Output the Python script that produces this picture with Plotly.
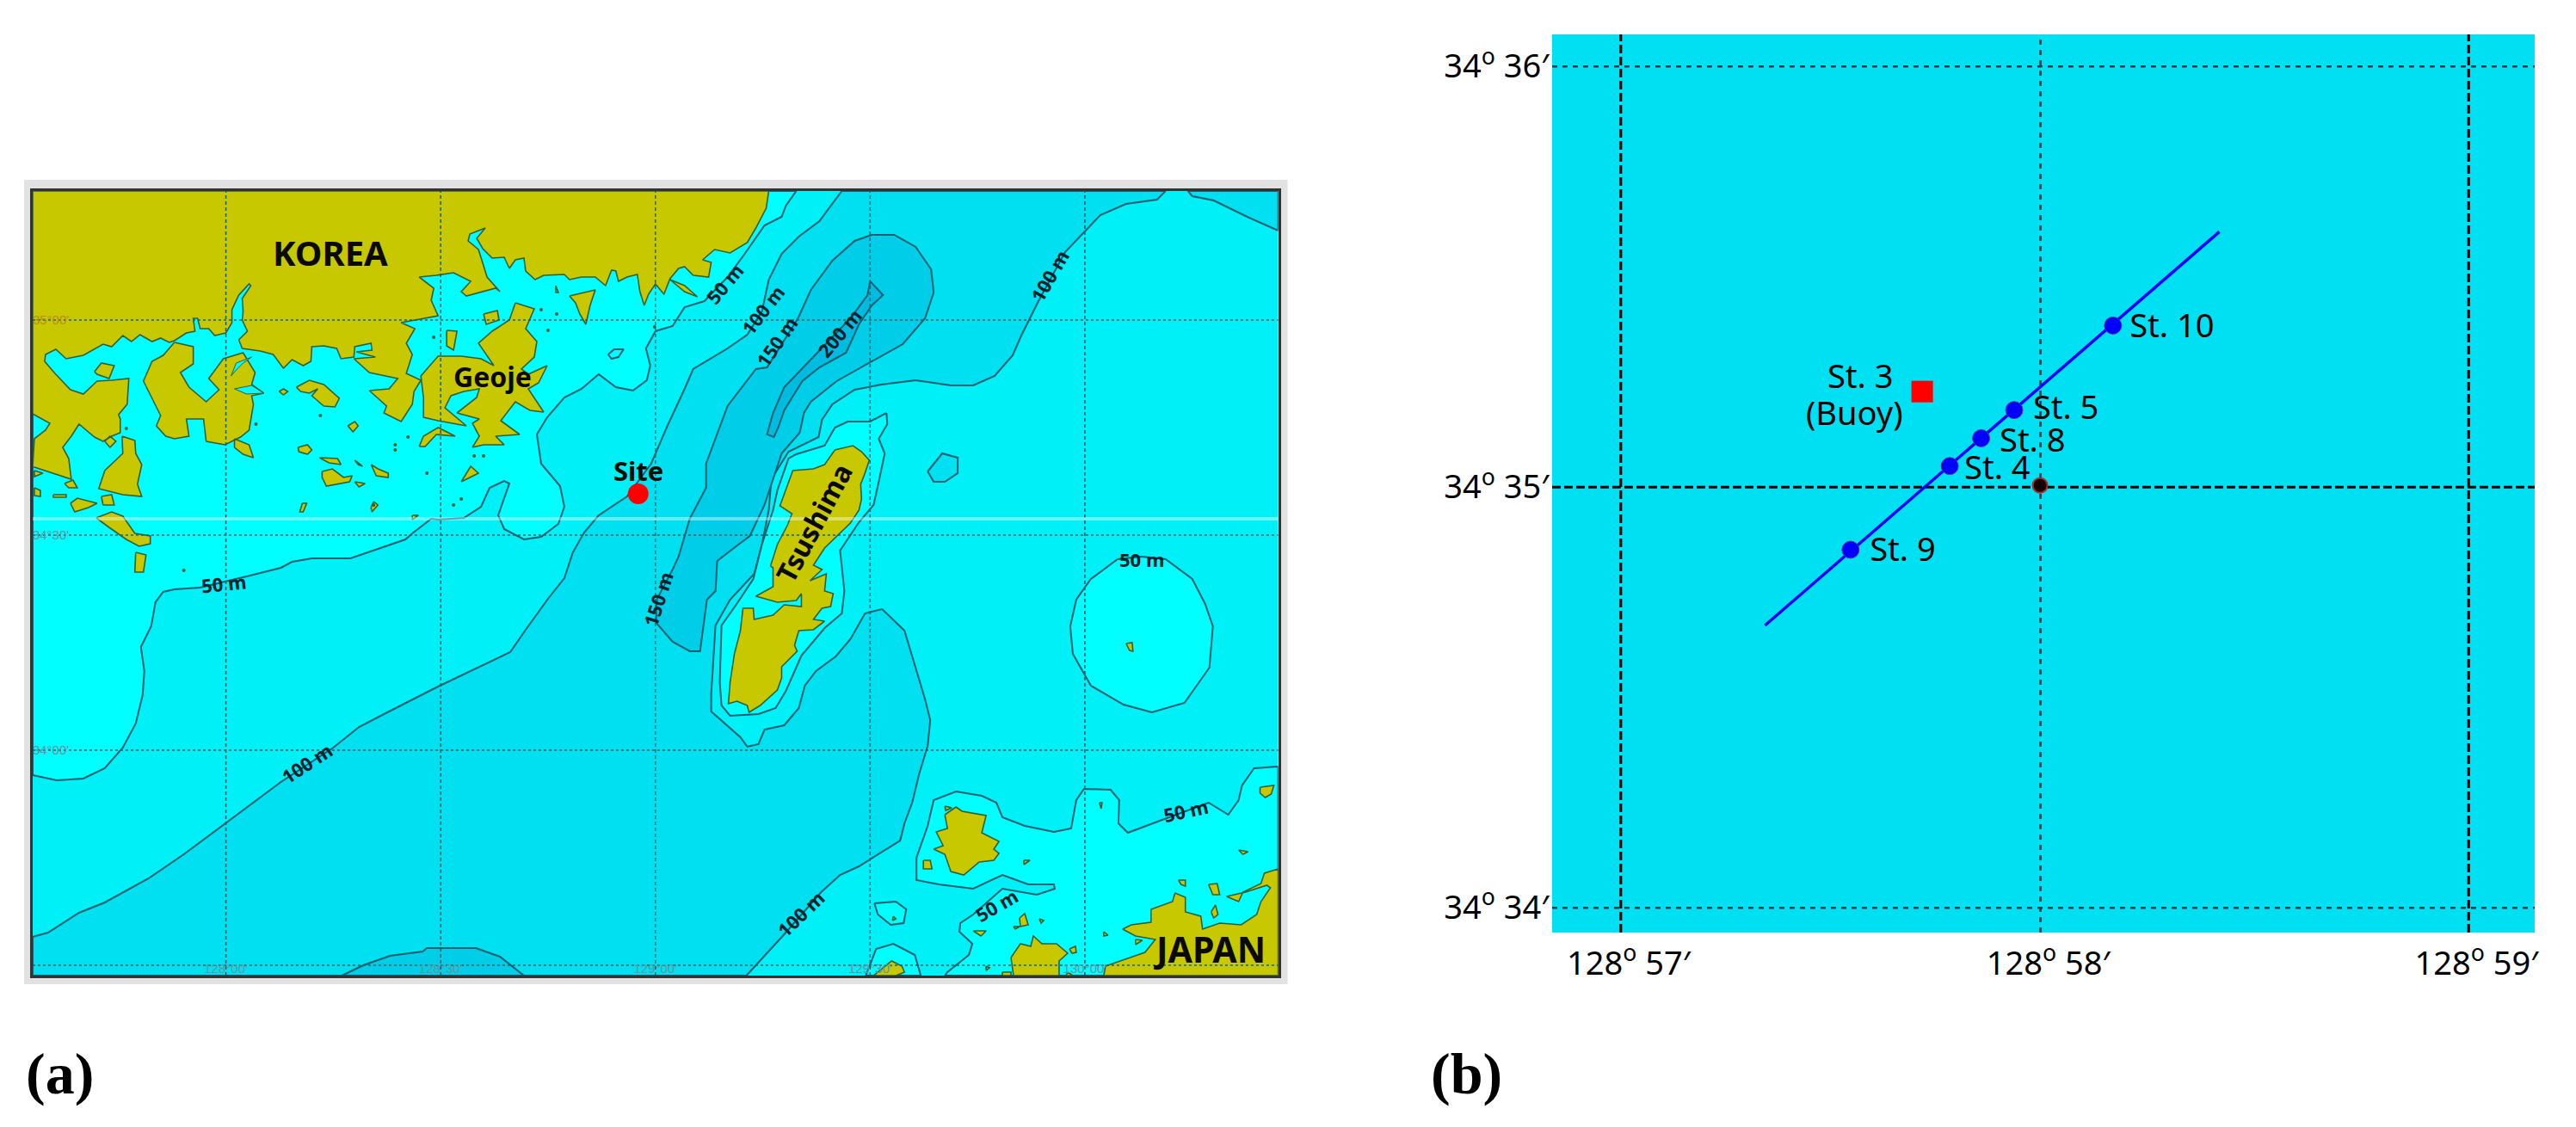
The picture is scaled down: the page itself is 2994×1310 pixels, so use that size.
import plotly.graph_objects as go

# Panel (a) digitised in map units of 0.002 degrees: east of 128E, north of 34N
KOREA = [(-223,329),(-180,315),(-183,339),(-190,352),(-180,365),(-171,379),(-153,364),(-143,359),(-133,365),(-123,369),(-123,385),(-125,390),(-115,402),(-113,432),(-133,430),(-150,429),(-166,414),(-181,419),(-200,439),(-211,452),(-210,460),(-198,466),(-186,455),(-166,459),(-143,472),(-133,469),(-120,482),(-110,475),(-100,483),(-86,475),(-76,479),(-66,474),(-60,476),(-46,485),(-36,487),(-38,502),(-33,502),(-30,490),(-20,490),(-13,482),(0,485),(7,497),(7,512),(15,529),(27,542),(29,540),(19,525),(20,510),(19,500),(25,487),(15,477),(19,467),(40,464),(55,460),(67,444),(77,454),(90,447),(99,452),(100,469),(114,470),(129,467),(134,455),(149,457),(150,469),(169,473),(170,465),(152,463),(174,457),(149,455),(167,439),(200,432),(190,420),(167,418),(187,400),(184,392),(204,382),(217,402),(219,417),(227,430),(210,438),(217,460),(210,473),(220,490),(204,497),(247,505),(239,523),(242,537),(225,550),(245,552),(265,555),(285,545),(274,533),(280,528),(314,537),(319,533),(310,543),(304,550),(300,563),(294,582),(282,592),(284,600),(302,607),(292,595),(299,583),(310,572),(324,573),(330,560),(337,570),(347,572),(349,557),(360,547),(370,552),(394,553),(400,547),(414,550),(430,550),(442,540),(449,558),(454,557),(457,545),(467,550),(479,553),(482,533),(487,517),(492,530),(500,542),(510,530),(517,548),(527,560),(534,562),(544,552),(562,550),(565,567),(555,570),(569,582),(587,578),(607,590),(617,607),(629,630),(632,650),(-225,650),(-225,391),(-205,380),(-210,372),(-223,362),(-225,329)]
GEOJE = [(337,520),(359,513),(349,490),(362,475),(359,457),(344,443),(352,437),(374,447),(364,427),(352,420),(370,393),(354,395),(337,405),(320,383),(342,367),(314,365),(324,355),(300,355),(287,352),(295,365),(287,380),(295,385),(269,392),(292,410),(295,420),(277,417),(262,412),(255,398),(280,377),(247,383),(230,387),(230,410),(227,435),(247,458),(274,458),(297,455),(312,447),(294,473),(310,487),(330,500)]
WEST_ISLAND = [(-60,474),(-38,469),(-38,449),(-53,439),(-43,422),(-23,405),(-8,419),(-20,432),(-3,455),(20,462),(34,439),(30,425),(44,415),(30,412),(32,402),(27,372),(17,364),(7,359),(-1,355),(-23,359),(-26,385),(-46,385),(-43,365),(-60,362),(-70,365),(-81,377),(-76,389),(-86,409),(-96,429),(-86,452),(-73,459)]
SMALL_ISLANDS = [
 [(10,362),(27,355),(32,340),(20,344),(10,352)],
 [(-121,365),(-106,360),(-105,345),(-98,332),(-103,309),(-98,295),(-120,297),(-148,304),(-141,325),(-126,339),(-120,345)],
 [(-141,359),(-135,365),(-128,359),(-135,352)],
 [(-153,440),(-145,450),(-130,447),(-136,432),(-150,437)],
 [(-181,287),(-173,293),(-150,287),(-160,282),(-176,277)],
 [(-188,310),(-178,314),(-173,305),(-183,305)],
 [(-145,295),(-133,297),(-130,285),(-143,285)],
 [(-223,305),(-216,302),(-216,295),(-223,296)],
 [(-223,325),(-213,322),(-223,318)],
 [(-201,297),(-186,297),(-186,294),(-201,294)],
 [(-151,270),(-133,277),(-120,272),(-106,252),(-88,249),(-88,240),(-101,237),(-116,245),(-136,259)],
 [(-105,230),(-93,227),(-96,207),(-106,207)],
 [(62,417),(67,420),(72,417),(67,413)],
 [(82,422),(97,430),(114,425),(132,409),(127,399),(114,400),(100,412),(107,420),(97,415),(87,417)],
 [(142,377),(150,382),(154,377),(148,370)],
 [(84,352),(95,355),(100,349),(95,344),(85,347)],
 [(109,340),(130,339),(134,332),(120,334)],
 [(112,324),(124,327),(137,317),(147,319),(144,312),(134,310),(117,307),(112,317)],
 [(169,332),(177,327),(189,322),(189,317),(175,319)],
 [(150,337),(159,330),(154,332)],
 [(150,312),(162,310),(155,306)],
 [(89,287),(94,287),(90,277),(86,277)],
 [(172,289),(177,285),(170,277),(169,282)],
 [(217,273),(224,273),(217,268)],
 [(400,528),(430,535),(424,517),(419,495),(412,507),(407,520)],
 [(257,488),(269,487),(265,465),(257,470)],
 [(300,507),(316,511),(318,500),(303,495)],
 [(517,547),(534,540),(549,527),(534,533)],
 [(225,353),(230,365),(247,375),(267,365),(245,367),(232,353)],
 [(274,312),(285,330),(294,322)],
 [(384,540),(387,532),(384,532)],
]
CHANNELS = [
 [(6,435),(12,450),(30,457),(20,450),(12,442)],
 [(10,420),(30,424),(44,415),(24,414)],
]
LAND_DOTS_E = [-49,375,367,385,499,242,197,197,234,265,274,172,212,35,110,-116,289,300]
LAND_DOTS_N = [209,488,512,507,492,480,355,349,322,285,292,285,364,379,389,374,342,342]

TSUSHIMA = [(709,349),(730,354),(740,347),(749,337),(744,322),(739,309),(740,292),(737,279),(727,264),(710,247),(697,235),(684,215),(694,210),(680,197),(699,205),(697,185),(707,182),(704,167),(694,165),(684,152),(697,150),(684,140),(667,139),(662,122),(665,115),(647,97),(647,84),(642,70),(630,59),(622,52),(609,44),(607,52),(595,57),(585,54),(587,79),(592,112),(599,139),(602,165),(614,165),(615,152),(637,157),(650,169),(670,167),(670,182),(664,174),(642,172),(617,179),(637,190),(637,212),(634,214),(642,239),(654,262),(659,275),(645,284),(660,325),(684,327),(697,332)]
IKI = [(837,-75),(850,-66),(857,-71),(885,-76),(880,-96),(900,-106),(894,-115),(900,-120),(894,-128),(877,-130),(859,-145),(844,-141),(837,-121),(824,-115),(835,-111),(827,-95),(840,-91)]
JAPAN = [(1225,-138),(1209,-143),(1205,-155),(1184,-165),(1179,-176),(1165,-170),(1187,-165),(1212,-157),(1216,-160),(1205,-176),(1200,-191),(1182,-203),(1157,-201),(1137,-208),(1135,-193),(1117,-188),(1117,-171),(1105,-166),(1102,-176),(1077,-185),(1077,-200),(1054,-203),(1044,-208),(1059,-216),(1082,-220),(1070,-235),(1047,-243),(1024,-251),(1022,-262),(1225,-262)]
JAPAN_ISLANDS = [
 [(812,-128),(820,-128),(822,-138),(812,-138)],
 [(837,-65),(845,-67),(838,-70)],
 [(929,-128),(936,-128),(929,-133)],
 [(1017,-61),(1020,-61),(1019,-68)],
 [(1204,-43),(1220,-41),(1217,-51),(1210,-55),(1204,-50)],
 [(1179,-116),(1190,-118),(1184,-121)],
 [(1144,-156),(1154,-155),(1157,-168),(1149,-168)],
 [(1147,-188),(1152,-180),(1155,-191),(1150,-195)],
 [(1109,-151),(1117,-151),(1117,-158),(1112,-156)],
 [(1059,-220),(1067,-221),(1059,-226)],
 [(1022,-211),(1027,-215),(1022,-216)],
 [(914,-241),(925,-225),(937,-228),(940,-216),(950,-225),(967,-225),(980,-236),(970,-245),(970,-262),(917,-262)],
 [(982,-231),(989,-228),(990,-235),(985,-236)],
 [(754,-262),(775,-245),(787,-251),(790,-258),(780,-262)],
 [(870,-210),(885,-210),(879,-216)],
 [(924,-195),(930,-190),(934,-203),(925,-205)],
 [(917,-205),(924,-205),(919,-208)],
 [(947,-196),(952,-198),(949,-201)],
 [(904,-258),(914,-258),(914,-262),(904,-262)],
 [(885,-251),(889,-253),(885,-256)],
 [(980,-258),(986,-262),(978,-262)],
 [(777,-193),(780,-196),(776,-198)],
 [(1048,124),(1055,125),(1056,115),(1052,116)],
]

# Depth contours
SHALLOW_WEST = [(-225,-29),(-197,-35),(-166,-33),(-141,-21),(-120,3),(-105,31),(-97,64),(-95,92),(-99,120),(-87,144),(-82,172),(-73,184),(-60,187),(-30,189),(24,202),(64,212),(77,219),(100,223),(145,223),(177,234),(209,245),(217,252),(239,269),(247,268),(277,270),(297,283),(307,305),(324,313),(330,310),(317,273),(324,257),(347,245),(367,248),(387,263),(394,283),(389,307),(367,333),(362,367),(374,387),(394,410),(414,420),(434,437),(454,422),(474,418),(490,430),(494,447),(489,467),(500,487),(520,493),(534,515),(557,522),(584,550),(604,577),(627,610),(647,620),(652,633),(664,650),(-225,650)]
SHALLOW_OVAL = [(1038,222),(1066,225),(1094,222),(1125,199),(1140,170),(1149,144),(1145,96),(1116,55),(1078,44),(1045,53),(1007,75),(986,112),(983,144),(990,175),(1007,199)]
SHALLOW_TSUSHIMA = [(769,392),(770,379),(760,362),(767,345),(760,312),(754,285),(737,265),(715,232),(720,185),(717,159),(697,142),(670,110),(652,69),(640,49),(620,42),(587,40),(577,52),(575,79),(577,145),(594,169),(614,199),(624,239),(637,279),(642,302),(655,339),(664,344),(697,354),(709,375),(724,382),(750,382)]
SHALLOW_JAPAN = [(1225,-19),(1197,-21),(1183,-41),(1179,-58),(1167,-75),(1144,-61),(1090,-81),(1050,-96),(1039,-85),(1040,-58),(1030,-46),(999,-45),(990,-58),(984,-91),(964,-95),(930,-88),(904,-78),(897,-61),(880,-53),(850,-48),(824,-58),(817,-88),(804,-125),(804,-151),(830,-156),(870,-161),(904,-145),(934,-156),(964,-156),(965,-161),(944,-168),(904,-161),(870,-191),(855,-201),(854,-211),(869,-225),(865,-238),(840,-258),(837,-262),(1225,-262)]
SHALLOW_SOUTH = [(809,-262),(802,-238),(777,-225),(757,-231),(745,-262)]
SHALLOW_BAY = [(755,-178),(780,-176),(792,-185),(789,-201),(774,-203),(759,-191)]
SITE_LOOP = [(445,460),(452,466),(463,466),(457,457),(449,455),(445,460)]

DEEP_100 = [(-225,-262),(-225,-217),(-207,-212),(-171,-189),(-141,-177),(-90,-149),(-49,-121),(-3,-87),(43,-53),(64,-37),(125,3),(155,27),(186,43),(247,74),(331,114),(349,140),(375,176),(394,200),(404,230),(417,253),(434,273),(467,295),(495,333),(514,377),(534,420),(544,443),(584,467),(607,483),(624,510),(632,547),(647,577),(667,597),(691,615),(717,650),(1094,650),
 (1084,640),(1048,635),(1018,622),(977,579),(946,522),(926,482),(916,459),(895,435),(870,424),(844,424),(803,430),(763,425),(732,419),(706,402),(694,384),(690,364),(655,347),(635,315),(632,279),(624,239),(615,205),(587,175),(570,145),(565,65),(565,45),(599,15),(607,4),(620,7),(627,24),(650,29),(667,49),(674,75),(687,92),(710,109),(727,129),(744,159),(764,164),(790,139),(814,59),(820,35),(817,5),(810,-18),(807,-28),(799,-61),(790,-85),(785,-105),(764,-118),(737,-135),(715,-145),(693,-165),(650,-214),(606,-262)]
DEEP_100_CORNER = [(1225,604),(1191,619),(1150,639),(1125,644),(1120,650),(1225,650)]
DEEP_100_LOOP = [(817,324),(834,345),(852,340),(852,322),(837,312),(824,312)]
DEEP_150 = [(752,599),(778,599),(803,585),(821,559),(824,532),(814,502),(788,472),(747,449),(711,429),(681,405),(673,392),(668,369),(647,345),(627,285),(610,249),(594,237),(572,220),(570,185),(560,175),(552,115),(540,115),(520,126),(501,148),(501,164),(502,176),(520,210),(527,225),(540,269),(559,305),(559,333),(584,400),(617,443),(630,445),(666,502),(681,535),(706,569),(732,592)]
DEEP_150_SOUTH = [(135,-262),(160,-250),(191,-239),(229,-234),(234,-230),(291,-230),(319,-240),(347,-262)]
DEEP_200 = [(750,545),(765,529),(752,517),(737,495),(722,462),(691,445),(671,429),(650,395),(643,375),(638,364),(630,367),(637,392),(650,422),(686,459),(727,502),(747,529)]

MAP_LON_TICKS = [128.0, 128.5, 129.0, 129.5, 130.0]
MAP_LON_LABELS = ["128°00'", "128°30'", "129°00'", "129°30'", "130°00'"]
MAP_LAT_TICKS = [33.5, 34.0, 34.5, 35.0]
MAP_LAT_LABELS = ["33°30'", "34°00'", "34°30'", "<span style='color:#b98f00'>35°00'</span>"]
MAP_E_RANGE = [-225, 1225]
MAP_N_RANGE = [-262, 650]
HAZE_N = [269, 269]

SITE_E = [480]
SITE_N = [298]

MAP_LABELS = ["KOREA", "Geoje", "Site", "Tsushima", "JAPAN"]
MAP_LABEL_E = [122, 310, 480, 684, 1145]
MAP_LABEL_N = [579, 435, 325, 265, -231]
MAP_LABEL_ANGLE = [0, 0, 0, -62, 0]
MAP_LABEL_SIZE = [40, 32, 31, 32, 41]

DEPTHS = ["50 m", "50 m", "50 m", "50 m", "50 m", "100 m", "100 m", "100 m", "100 m", "150 m", "150 m", "200 m"]
DEPTH_E = [-3, 580, 1066, 897, 1117, 625, 959, 94, 669, 641, 503, 714]
DEPTH_N = [194, 542, 222, -180, -70, 512, 552, -15, -190, 475, 176, 485]
DEPTH_ANGLE = [-6, -50, 0, -30, -12, -52, -60, -33, -44, -55, -72, -50]

# Panel (b): arc-minutes past 128 deg E and past 34 deg N
TRANSECT_X = [57.340, 58.412]
TRANSECT_Y = [34.671, 35.607]
STATION_NAMES = ["St. 9", "St. 4", "St. 8", "St. 5", "St. 10"]
STATION_X = [57.542, 57.776, 57.850, 57.928, 58.161]
STATION_Y = [34.851, 35.050, 35.116, 35.183, 35.384]
NAME_X = [57.665, 57.888, 57.971, 58.050, 58.300]
NAME_Y = [34.843, 35.039, 35.104, 35.182, 35.376]
BUOY_X = [57.711]
BUOY_Y = [35.227]
BUOY_NAMES = ["St. 3", "(Buoy)"]
BUOY_NAME_X = [57.565, 57.551]
BUOY_NAME_Y = [35.254, 35.166]
CENTER_X = [57.989]
CENTER_Y = [35.004]
ZOOM_X_TICKS = [57, 57.99, 59]
ZOOM_X_LABELS = ["128<sup>o</sup> 57′", "128<sup>o</sup> 58′", "128<sup>o</sup> 59′"]
ZOOM_Y_TICKS = [34, 35, 36]
ZOOM_Y_LABELS = ["34<sup>o</sup> 34′", "34<sup>o</sup> 35′", "34<sup>o</sup> 36′"]
ZOOM_X_RANGE = [56.838, 59.156]
ZOOM_Y_RANGE = [33.941, 36.076]

W, H = 2994, 1310
SEA_50 = "#00f0f8"
SEA_0 = "#00ffff"
SEA_100 = "#00e0f0"
SEA_150 = "#00cde8"
SEA_200 = "#00bbe0"
LAND = "#c8c800"
COAST = "#2f5f3a"
CONTOUR = "#0c5f6e"
GRID = "#1c5f66"
TEXT_FONT = "Noto Sans"


def lon(e):
    return 128 + e / 500


def lat(n):
    return 34 + n / 500


def unpack(polys):
    xs, ys = [], []
    for poly in polys:
        closed = list(poly) + [poly[0]]
        xs += [lon(p[0]) for p in closed] + [None]
        ys += [lat(p[1]) for p in closed] + [None]
    return xs, ys


fig = go.Figure()


def add_area(polys, fill, line=CONTOUR, width=2):
    xs, ys = unpack(polys)
    fig.add_trace(go.Scatter(x=xs, y=ys, mode="lines", fill="toself", fillcolor=fill,
                             line=dict(color=line, width=width), xaxis="x", yaxis="y",
                             hoverinfo="skip", showlegend=False))


e0, e1 = MAP_E_RANGE
n0, n1 = MAP_N_RANGE
add_area([[(e0, n0), (e1, n0), (e1, n1), (e0, n1)]], SEA_50, line=SEA_50, width=0)
add_area([SHALLOW_WEST, SHALLOW_OVAL, SHALLOW_JAPAN, SHALLOW_SOUTH], SEA_0)
add_area([DEEP_100, DEEP_100_CORNER], SEA_100)
add_area([SHALLOW_TSUSHIMA], SEA_0)
add_area([DEEP_100_LOOP], SEA_100)
add_area([SHALLOW_BAY, SITE_LOOP], SEA_0)
add_area([DEEP_150, DEEP_150_SOUTH], SEA_150)
add_area([DEEP_200], SEA_200)
add_area([KOREA, GEOJE, WEST_ISLAND, TSUSHIMA, IKI, JAPAN] + SMALL_ISLANDS + JAPAN_ISLANDS, LAND, line=COAST, width=1.6)
add_area(CHANNELS, SEA_0, line=COAST, width=1)
fig.add_trace(go.Scatter(x=[lon(e) for e in LAND_DOTS_E], y=[lat(n) for n in LAND_DOTS_N], mode="markers",
                         marker=dict(size=4, color=COAST), xaxis="x", yaxis="y", hoverinfo="skip", showlegend=False))

# map graticule, drawn over the land
for t in MAP_LON_TICKS:
    fig.add_trace(go.Scatter(x=[t, t], y=[lat(n0), lat(n1)], mode="lines", xaxis="x", yaxis="y",
                             line=dict(color=GRID, width=1.5, dash="4px,3px"), hoverinfo="skip", showlegend=False))
for t in MAP_LAT_TICKS:
    fig.add_trace(go.Scatter(x=[lon(e0), lon(e1)], y=[t, t], mode="lines", xaxis="x", yaxis="y",
                             line=dict(color=GRID, width=1.5, dash="3px,3px"), hoverinfo="skip", showlegend=False))
fig.add_trace(go.Scatter(x=[lon(e0), lon(e1)], y=[lat(n) for n in HAZE_N], mode="lines", xaxis="x", yaxis="y",
                         line=dict(color="rgba(255,255,255,0.4)", width=4), hoverinfo="skip", showlegend=False))
fig.add_trace(go.Scatter(x=[lon(e) for e in SITE_E], y=[lat(n) for n in SITE_N], mode="markers", xaxis="x", yaxis="y",
                         marker=dict(size=24, color="#ff0000"), hoverinfo="skip", showlegend=False))

annotations = []
for txt, e, n, a, s in zip(MAP_LABELS, MAP_LABEL_E, MAP_LABEL_N, MAP_LABEL_ANGLE, MAP_LABEL_SIZE):
    annotations.append(dict(x=lon(e), y=lat(n), xref="x", yref="y", text=txt, textangle=a, showarrow=False,
                            xanchor="center", yanchor="middle",
                            font=dict(family=TEXT_FONT, size=s, weight=700, color="#0a0a00")))
for txt, e, n, a in zip(DEPTHS, DEPTH_E, DEPTH_N, DEPTH_ANGLE):
    annotations.append(dict(x=lon(e), y=lat(n), xref="x", yref="y", text=txt, textangle=a, showarrow=False,
                            xanchor="center", yanchor="middle",
                            font=dict(family=TEXT_FONT, size=22, weight=700, color="#04202a")))

# Panel (b)
fig.add_trace(go.Scatter(x=[ZOOM_X_RANGE[0], ZOOM_X_RANGE[1], ZOOM_X_RANGE[1], ZOOM_X_RANGE[0], ZOOM_X_RANGE[0]],
                         y=[ZOOM_Y_RANGE[0], ZOOM_Y_RANGE[0], ZOOM_Y_RANGE[1], ZOOM_Y_RANGE[1], ZOOM_Y_RANGE[0]],
                         mode="lines", fill="toself", fillcolor="#00e0f3", line=dict(width=0), xaxis="x2", yaxis="y2",
                         hoverinfo="skip", showlegend=False))
LINE_HEAVY = dict(color="#000000", width=3, dash="10px,4px")
LINE_THIN = dict(color="#06404a", width=2.5, dash="6px,6px")
for t in ZOOM_X_TICKS:
    fig.add_trace(go.Scatter(x=[t, t], y=ZOOM_Y_RANGE, mode="lines", xaxis="x2", yaxis="y2",
                             line=LINE_THIN if t == ZOOM_X_TICKS[1] else LINE_HEAVY, hoverinfo="skip", showlegend=False))
for t in ZOOM_Y_TICKS:
    fig.add_trace(go.Scatter(x=ZOOM_X_RANGE, y=[t, t], mode="lines", xaxis="x2", yaxis="y2",
                             line=LINE_HEAVY if t == ZOOM_Y_TICKS[1] else LINE_THIN, hoverinfo="skip", showlegend=False))
fig.add_trace(go.Scatter(x=TRANSECT_X, y=TRANSECT_Y, mode="lines", xaxis="x2", yaxis="y2",
                         line=dict(color="#0000ff", width=3.5), hoverinfo="skip", showlegend=False))
fig.add_trace(go.Scatter(x=STATION_X, y=STATION_Y, mode="markers", xaxis="x2", yaxis="y2",
                         marker=dict(size=20, color="#0000ff", line=dict(color="#5a3a90", width=1)),
                         hoverinfo="skip", showlegend=False))
fig.add_trace(go.Scatter(x=CENTER_X, y=CENTER_Y, mode="markers", xaxis="x2", yaxis="y2",
                         marker=dict(size=17, color="#150000", line=dict(color="#b02828", width=2)),
                         hoverinfo="skip", showlegend=False))
fig.add_trace(go.Scatter(x=BUOY_X, y=BUOY_Y, mode="markers", xaxis="x2", yaxis="y2",
                         marker=dict(size=25, symbol="square", color="#ff0000"), hoverinfo="skip", showlegend=False))
fig.add_trace(go.Scatter(x=NAME_X, y=NAME_Y, text=STATION_NAMES, mode="text", textposition="middle center",
                         xaxis="x2", yaxis="y2", textfont=dict(family=TEXT_FONT, size=38, color="#000000"),
                         hoverinfo="skip", showlegend=False))
fig.add_trace(go.Scatter(x=BUOY_NAME_X, y=BUOY_NAME_Y, text=BUOY_NAMES, mode="text", textposition="middle center",
                         xaxis="x2", yaxis="y2", textfont=dict(family=TEXT_FONT, size=38, color="#000000"),
                         hoverinfo="skip", showlegend=False))

# Panel letters
for letter, px in (("(a)", 70), ("(b)", 1707)):
    annotations.append(dict(x=px / W, y=1 - 1248 / H, xref="paper", yref="paper", text=f"<b>{letter}</b>", showarrow=False,
                            xanchor="center", yanchor="middle",
                            font=dict(family="Liberation Serif", size=68, color="#000000")))

fig.update_layout(
    width=W, height=H, margin=dict(l=0, r=0, t=0, b=0), autosize=False,
    paper_bgcolor="#ffffff", plot_bgcolor="#ffffff", showlegend=False,
    annotations=annotations,
    shapes=[dict(type="rect", xref="paper", yref="paper", x0=28 / W, x1=1499 / W, y0=1 - 1144 / H, y1=1 - 209 / H,
                 fillcolor="#e2e2e2", line=dict(width=0), layer="below")],
    xaxis=dict(domain=[38 / W, 1488 / W], range=[lon(e0), lon(e1)], tickmode="array", tickvals=MAP_LON_TICKS,
               ticktext=MAP_LON_LABELS, ticklabelposition="inside", ticks="", showgrid=False, zeroline=False,
               showline=True, mirror=True, linecolor="#333333", linewidth=3, anchor="y",
               tickfont=dict(family="Liberation Sans", size=15, color="#5e97a4")),
    yaxis=dict(domain=[1 - 1134 / H, 1 - 222 / H], range=[lat(n0), lat(n1)], tickmode="array", tickvals=MAP_LAT_TICKS,
               ticktext=MAP_LAT_LABELS, ticklabelposition="inside", ticks="", showgrid=False, zeroline=False,
               showline=True, mirror=True, linecolor="#333333", linewidth=3, anchor="x",
               tickfont=dict(family="Liberation Sans", size=15, color="#5e97a4")),
    xaxis2=dict(domain=[1807 / W, 2951 / W], range=ZOOM_X_RANGE, tickmode="array", tickvals=ZOOM_X_TICKS,
                ticktext=ZOOM_X_LABELS, ticks="", showgrid=False, zeroline=False, showline=False, anchor="y2",
                ticklabelstandoff=10, ticklabelshift=9,
                tickfont=dict(family=TEXT_FONT, size=38, color="#000000")),
    yaxis2=dict(domain=[1 - 1084 / H, 1 - 40 / H], range=ZOOM_Y_RANGE, tickmode="array", tickvals=ZOOM_Y_TICKS,
                ticktext=ZOOM_Y_LABELS, ticks="", showgrid=False, zeroline=False, showline=False, anchor="x2",
                ticklabelstandoff=3, tickfont=dict(family=TEXT_FONT, size=38, color="#000000")),
)

fig.write_html("out.html", config={"displayModeBar": False},
               post_script="document.body.style.margin='0';document.body.style.overflow='hidden';")
